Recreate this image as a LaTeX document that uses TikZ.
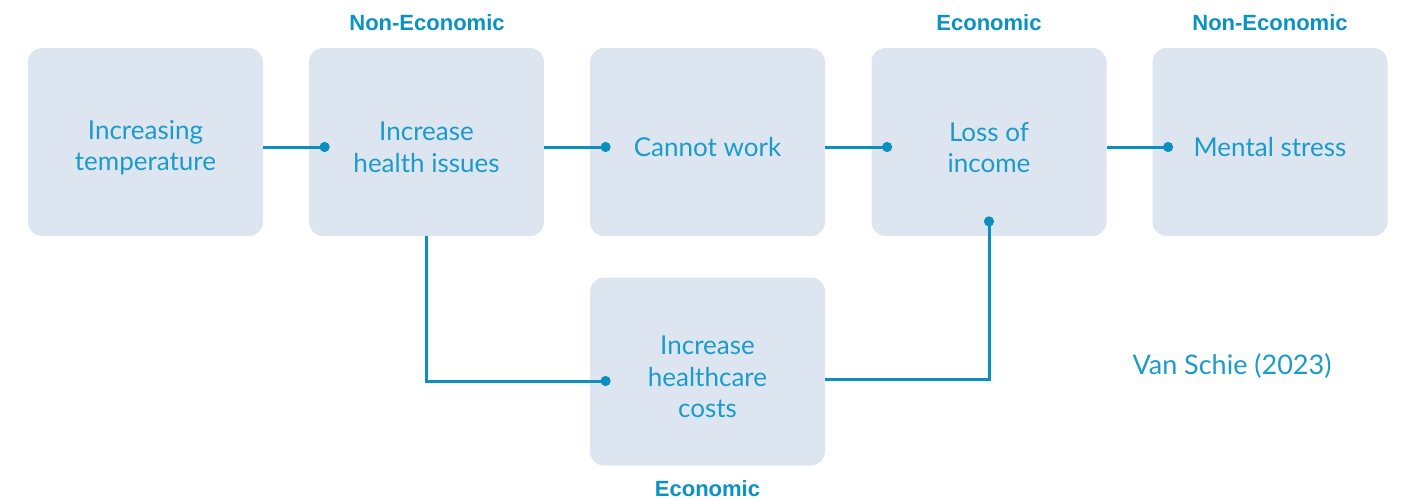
\documentclass[tikz,border=0pt]{standalone}
\usepackage{fontspec}
\setmainfont{Lato}
\newfontfamily\tagfont{Liberation Sans}
\usetikzlibrary{arrows.meta}

\definecolor{boxfill}{HTML}{DDE6F0}
\definecolor{inkblue}{HTML}{1B9BC9}
\definecolor{linkblue}{HTML}{0A8FC0}
\definecolor{tagblue}{HTML}{0A93C2}

\begin{document}
\begin{tikzpicture}[x=0.5pt, y=-0.5pt,
    stagetext/.style={align=center, text=inkblue, font=\fontsize{13}{15.75}\selectfont, yshift=-2.75pt},
    stage/.style={fill=boxfill, rounded corners=7pt, minimum width=117.5pt, minimum height=94pt,
      inner sep=0pt, label={[stagetext]center:{#1}}},
    tag/.style={text=tagblue, font=\tagfont\bfseries\fontsize{11}{13}\selectfont},
    link/.style={draw=linkblue, line width=1.5pt, -{Circle[length=5pt]}}]
    \useasboundingbox (0,0) rectangle (1403,500);

    % chain of effects
    \node[stage={Increasing\\temperature}] (temp) at (145.5,142) {};
    \node[stage={Increase\\health issues}] (health) at (426.5,142) {};
    \node[stage={Cannot work}] (work) at (707.5,142) {};
    \node[stage={Loss of\\income}] (income) at (989,142) {};
    \node[stage={Mental stress}] (stress) at (1270,142) {};
    \node[stage={Increase\\healthcare\\costs}] (care) at (707.5,371.5) {};

    % economic / non-economic tags
    \node[tag] (tagHealth) at (427,23) {Non-Economic};
    \node[tag] (tagIncome) at (989,23) {Economic};
    \node[tag] (tagStress) at (1270,23) {Non-Economic};
    \node[tag] (tagCare) at (707.5,489) {Economic};

    \node[text=inkblue, font=\fontsize{13.5}{16}\selectfont] (source) at (1232,366) {Van Schie (2023)};

    % links
    \draw[link] ([yshift=-2.5pt]temp.east) -- ([xshift=10.5pt,yshift=-2.5pt]health.west);
    \draw[link] ([yshift=-2.5pt]health.east) -- ([xshift=10.5pt,yshift=-2.5pt]work.west);
    \draw[link] ([yshift=-2.5pt]work.east) -- ([xshift=10.5pt,yshift=-2.5pt]income.west);
    \draw[link] ([yshift=-2.5pt]income.east) -- ([xshift=10.5pt,yshift=-2.5pt]stress.west);
    \draw[link] (health.south) |- ([xshift=10.5pt,yshift=-4.75pt]care.west);
    \draw[link] ([yshift=-3.75pt]care.east) -| ([yshift=10pt]income.south);
\end{tikzpicture}
\end{document}
